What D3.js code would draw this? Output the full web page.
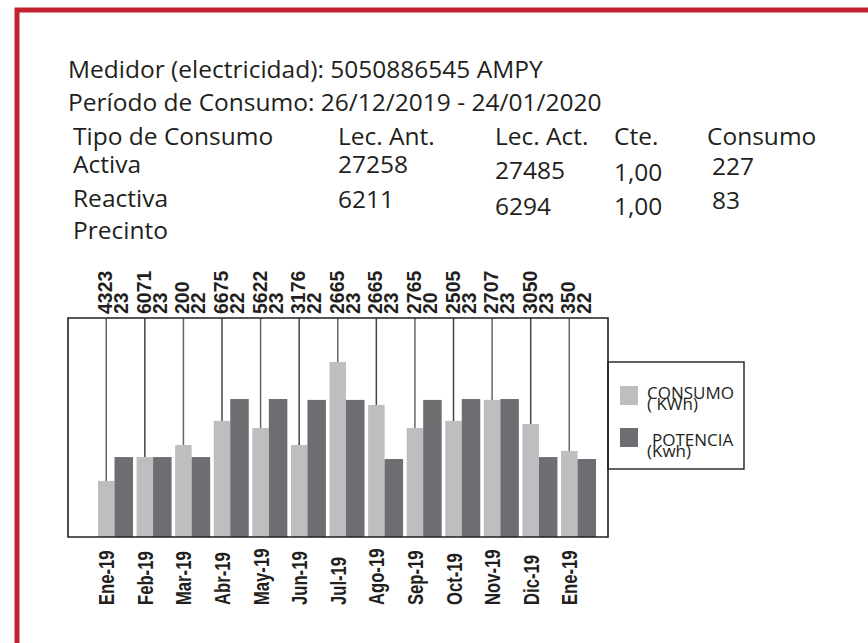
<!DOCTYPE html>
<html>
<head>
<meta charset="utf-8">
<script src="https://cdn.jsdelivr.net/npm/d3@7"></script>
<style>
  body { margin: 0; background: #fff; }
  svg text { font-family: "Open Sans", "Noto Sans", sans-serif; fill: #231f20; }
  .lbl text { font-family: "Liberation Sans", Arial, sans-serif; font-weight: bold; }
</style>
</head>
<body>
<svg id="chart" width="868" height="643"></svg>
<script>
// datos del recibo
var meses = ["Ene-19","Feb-19","Mar-19","Abr-19","May-19","Jun-19","Jul-19","Ago-19","Sep-19","Oct-19","Nov-19","Dic-19","Ene-19"];
var consumoTxt = [4323,6071,200,6675,5622,3176,2665,2665,2765,2505,2707,3050,350];
var diasTxt = [23,23,22,22,23,22,23,23,20,23,23,23,22];
// alturas de barra (escala relativa 0-100)
var consumoBar = [25.6,36.5,42.0,53.0,49.8,42.0,79.9,60.3,49.8,53.0,62.6,51.6,39.3];
var potenciaBar = [36.5,36.5,36.5,63.0,63.0,62.6,62.6,35.6,62.6,63.0,63.0,36.5,35.6];

var tipos = ["Activa","Reactiva"];
var lecAnt = ["27258","6211"];
var lecAct = ["27485","6294"];
var cte = ["1,00","1,00"];
var consumo = ["227","83"];
var leyenda = [["CONSUMO","( KWh)"],["POTENCIA","(Kwh)"]];

var svg = d3.select("#chart");
var ink = "#231f20";
var light = "#bcbec0", dark = "#6d6e71";

// marco rojo
svg.append("rect")
   .attr("x", 17).attr("y", 10)
   .attr("width", 860).attr("height", 640)
   .attr("fill", "none")
   .attr("stroke", "#c4202f")
   .attr("stroke-width", 5);

// cabecera
var head = svg.append("g").style("font-size", "24.5px");
head.append("text").attr("x", 68).attr("y", 78).text("Medidor (electricidad): 5050886545 AMPY");
head.append("text").attr("x", 68).attr("y", 111).text("Período de Consumo: 26/12/2019 - 24/01/2020");

var cols = [
  {x: 73,  title: "Tipo de Consumo", vals: tipos,   dy: [0, 0]},
  {x: 338, title: "Lec. Ant.",       vals: lecAnt,  dy: [0, 1]},
  {x: 495, title: "Lec. Act.",       vals: lecAct,  dy: [6, 8]},
  {x: 614, title: "Cte.",            vals: cte,     dy: [8, 8]},
  {x: 707, title: "Consumo",         vals: consumo, dy: [2, 2], dx: 5}
];
cols.forEach(function(c) {
  head.append("text").attr("x", c.x).attr("y", 145).text(c.title);
  c.vals.forEach(function(v, i) {
    head.append("text")
        .attr("x", c.x + (c.dx || 0))
        .attr("y", 173 + i * 34 + c.dy[i])
        .text(v);
  });
});
head.append("text").attr("x", 73).attr("y", 239).text("Precinto");

// grafico
var pTop = 318, pBottom = 537, pLeft = 68, pRight = 608;

var x = d3.scaleBand()
    .domain(d3.range(meses.length))
    .range([95.7, 597.3])
    .padding(0);

var sub = d3.scaleBand()
    .domain(["consumo","potencia"])
    .range([2.3, 37.3])
    .paddingInner(0);

var y = d3.scaleLinear()
    .domain([0, 100])
    .range([pBottom, pTop]);

var g = svg.append("g");

// barras
g.selectAll("rect.consumo")
  .data(consumoBar)
  .enter()
  .append("rect")
  .attr("x", function(d, i) { return x(i) + sub("consumo"); })
  .attr("y", function(d) { return y(d); })
  .attr("width", sub.bandwidth() - 1)
  .attr("height", function(d) { return y(0) - y(d); })
  .attr("fill", light);

g.selectAll("rect.potencia")
  .data(potenciaBar)
  .enter()
  .append("rect")
  .attr("x", function(d, i) { return x(i) + sub("potencia") - 1; })
  .attr("y", function(d) { return y(d); })
  .attr("width", sub.bandwidth() + 1)
  .attr("height", function(d) { return y(0) - y(d); })
  .attr("fill", dark);

// lineas guia desde arriba hasta la barra de consumo
function cx(i) { return x(i) + sub("consumo") + (sub.bandwidth() - 1) / 2; }

g.selectAll("line.guia")
  .data(consumoBar)
  .enter()
  .append("line")
  .attr("x1", function(d, i) { return cx(i); })
  .attr("x2", function(d, i) { return cx(i); })
  .attr("y1", pTop)
  .attr("y2", function(d) { return y(d); })
  .attr("stroke", function(d, i) { return i % 2 ? "#444" : "#666"; })
  .attr("stroke-width", 1.5);

// marco del grafico
g.append("path")
  .attr("d", "M" + pLeft + "," + pTop + "H" + pRight + "V" + pBottom + "H" + pLeft + "Z")
  .attr("fill", "none")
  .attr("stroke", ink)
  .attr("stroke-width", 1.6);

// etiquetas superiores (consumo / dias)
var lbTop = g.append("g").attr("class", "lbl").style("font-size", "20.5px");
consumoTxt.forEach(function(v, i) {
  lbTop.append("text")
    .attr("transform", "translate(" + (cx(i) + 6) + "," + (pTop - 4) + ") rotate(-90) scale(0.95,1)")
    .text(v);
  lbTop.append("text")
    .attr("transform", "translate(" + (cx(i) + 22) + "," + (pTop - 4) + ") rotate(-90) scale(0.95,1)")
    .text(diasTxt[i]);
});

// eje de meses
var lbBot = g.append("g").attr("class", "lbl").style("font-size", "22.5px");
lbBot.selectAll("text")
  .data(meses)
  .enter()
  .append("text")
  .attr("transform", function(d, i) {
    return "translate(" + (cx(i) + 8) + ",605) rotate(-90) scale(0.74,1)";
  })
  .text(function(d) { return d; });

// leyenda
var lg = svg.append("g");
lg.append("rect")
  .attr("x", pRight).attr("y", 362)
  .attr("width", 136).attr("height", 107)
  .attr("fill", "none")
  .attr("stroke", ink)
  .attr("stroke-width", 1.4);

var lgColor = [light, dark];
leyenda.forEach(function(l, i) {
  lg.append("rect")
    .attr("x", 620).attr("y", 386 + i * 42)
    .attr("width", 18).attr("height", 19)
    .attr("fill", lgColor[i]);
  lg.append("text")
    .attr("x", 647 + i * 5).attr("y", 399 + i * 47)
    .style("font-size", "17px")
    .text(l[0]);
  lg.append("text")
    .attr("x", 647).attr("y", 410 + i * 47)
    .style("font-size", "17px")
    .text(l[1]);
});
</script>
</body>
</html>
